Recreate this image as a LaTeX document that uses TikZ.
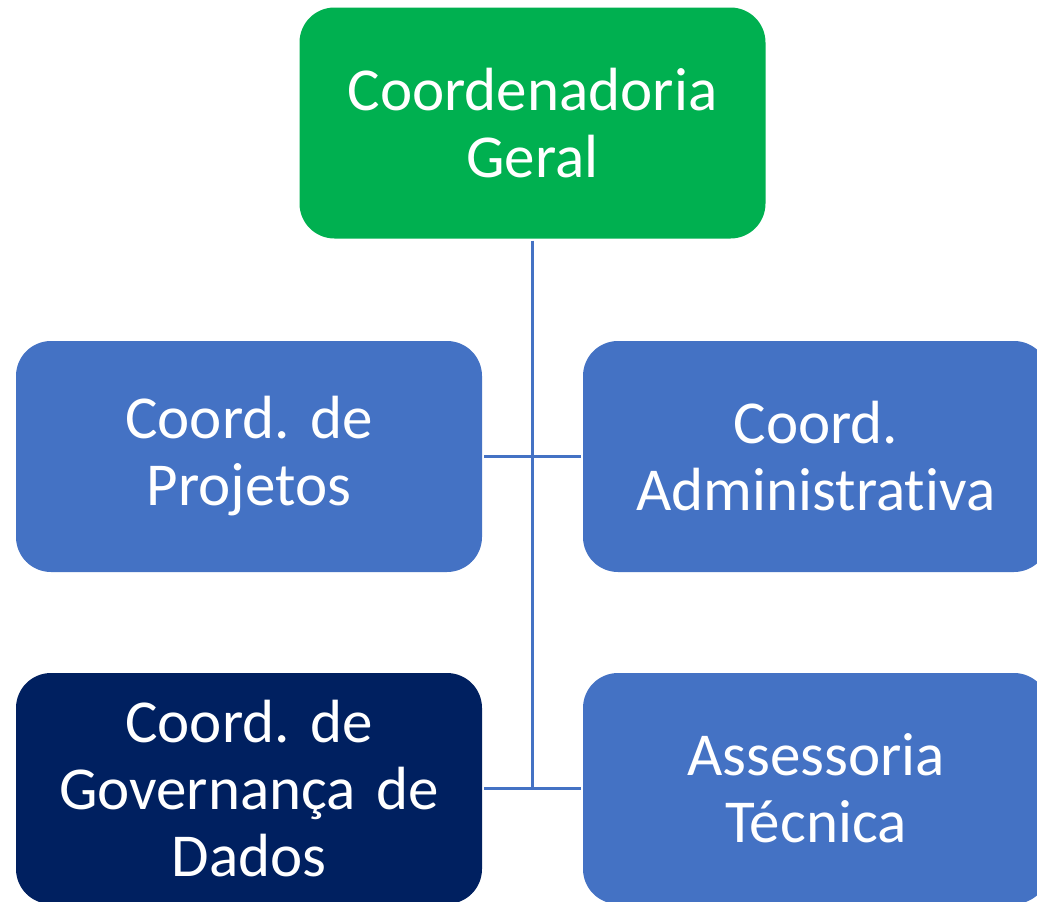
\documentclass[tikz,border=0pt]{standalone}
\usepackage{fontspec}
\setmainfont{Carlito}[Ligatures={NoCommon}, WordSpace=0.85]
\definecolor{cgreen}{HTML}{00B050}
\definecolor{cblue}{HTML}{4472C4}
\definecolor{cnavy}{HTML}{002060}
\frenchspacing
\begin{document}
\begin{tikzpicture}[x=1pt,y=1pt,
  unitbox/.style={rectangle, rounded corners=35pt, minimum width=466pt, minimum height=231pt,
    inner sep=0pt, text width=450pt, align=center, text=white,
    font=\fontsize{61}{67}\selectfont},
  link/.style={draw=cblue, line width=3pt}]
\useasboundingbox (0,0) rectangle (1037,-902);
\clip (0,0) rectangle (1037,-902);
\fill[white] (0,0) rectangle (1037,-902);
\node[unitbox, fill=cgreen] (cg) at (532.5,-123) {Coordenadoria\\Geral};
\node[unitbox, fill=cblue] (cp) at (249,-456.5) {Coord. de\\Projetos};
\node[unitbox, fill=cblue] (ca) at (816,-456.5) {Coord.\\Administrativa};
\node[unitbox, fill=cnavy] (gd) at (249,-788.5) {Coord. de\\Governança de\\Dados};
\node[unitbox, fill=cblue] (at) at (816,-788.5) {Assessoria\\Técnica};
\coordinate (vb) at (cg.south |- gd.east);
\draw[link, shorten <=2pt] (cg.south) -- (vb);
\draw[link, shorten <=2pt, shorten >=2pt] (cp.east) -- (ca.west);
\draw[link, shorten <=2pt, shorten >=2pt] (gd.east) -- (at.west);
\end{tikzpicture}
\end{document}
